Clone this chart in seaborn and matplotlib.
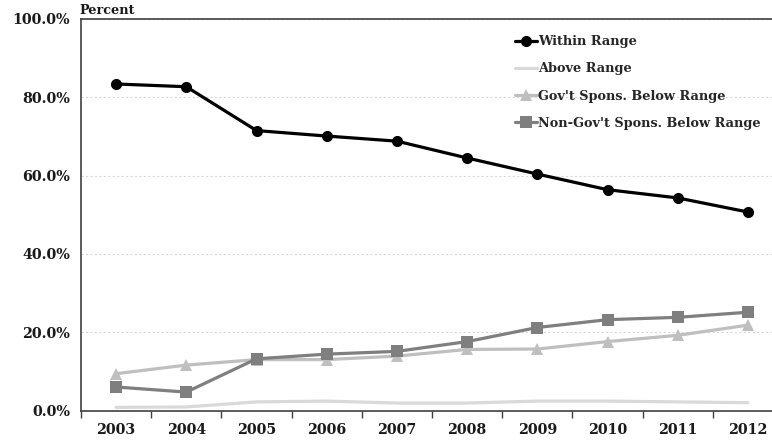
import matplotlib
matplotlib.use("Agg")
import matplotlib.pyplot as plt
import matplotlib.ticker as mticker
import pandas as pd
import seaborn as sns

years = [2003, 2004, 2005, 2006, 2007, 2008, 2009, 2010, 2011, 2012]
within_range = [83.4, 82.7, 71.5, 70.1, 68.8, 64.5, 60.4, 56.4, 54.3, 50.7]
above_range = [0.8, 0.9, 2.2, 2.4, 1.9, 1.9, 2.4, 2.4, 2.2, 2.0]
gov_below = [9.4, 11.6, 13.0, 13.0, 13.9, 15.6, 15.7, 17.6, 19.2, 21.8]
nongov_below = [6.0, 4.7, 13.2, 14.4, 15.1, 17.6, 21.2, 23.2, 23.8, 25.1]

series_names = ["Within Range", "Above Range",
                "Gov't Spons. Below Range", "Non-Gov't Spons. Below Range"]

sns.set_theme(style="white")
plt.rcParams["font.family"] = ["DejaVu Serif"]
plt.rcParams["font.weight"] = "bold"

fig = plt.figure(figsize=(7.72, 4.41), dpi=100)
ax = fig.add_axes([81 / 772, 30.5 / 441, 702 / 772, 391.5 / 441])

styles = [
    (within_range, dict(color="#000000", marker="o", markersize=8, linewidth=2.3)),
    (above_range, dict(color="#d9d9d9", marker=None, linewidth=2.3)),
    (gov_below, dict(color="#bfbfbf", marker="^", markersize=9, linewidth=2.3)),
    (nongov_below, dict(color="#7f7f7f", marker="s", markersize=8, linewidth=2.3)),
]

for name, (vals, kw) in zip(series_names, styles):
    df = pd.DataFrame({"year": years, "value": vals})
    sns.lineplot(data=df, x="year", y="value", ax=ax, label=name,
                 markeredgewidth=0, zorder=3, **kw)

ax.set_xlim(years[0] - 0.5, years[-1] + 0.5)
ax.set_ylim(0, 100)
ax.yaxis.set_major_locator(mticker.MultipleLocator(20))
ax.yaxis.set_major_formatter(mticker.FuncFormatter(lambda v, p: f"{v:.1f}%"))
ax.set_yticks([0], minor=True)
ax.set_xticks(years)
ax.set_xticklabels([str(y) for y in years])
ax.set_xticks([y + 0.5 for y in years[:-1]] + [years[0] - 0.5], minor=True)
ax.tick_params(axis="x", which="major", length=0, pad=9, labelsize=10.3)
ax.tick_params(axis="x", which="minor", length=5, width=1, color="#404040",
               direction="out", bottom=True)
ax.tick_params(axis="y", which="major", length=0, pad=8, labelsize=10.3)
ax.tick_params(axis="y", which="minor", length=4, width=1, color="#404040",
               direction="out", left=True)
for lbl in ax.get_xticklabels() + ax.get_yticklabels():
    lbl.set_fontweight("bold")
    lbl.set_color("#1a1a1a")

ax.grid(axis="y", color="#d9d9d9", linestyle=(0, (2, 2)), linewidth=0.8)
ax.set_axisbelow(True)
ax.set_xlabel("")
ax.set_ylabel("")
ax.spines["right"].set_visible(False)
for side in ("left", "bottom", "top"):
    ax.spines[side].set_color("#404040")
    ax.spines[side].set_linewidth(1.2)

fig.text(79 / 772, 1 - 10 / 441, "Percent", fontsize=9.3, fontweight="bold",
         color="#1a1a1a", va="center", ha="left")

ax.legend_.remove()
handles, labels = ax.get_legend_handles_labels()
fig.legend(handles, labels, loc="upper left",
           bbox_to_anchor=(510 / 772, 1 - 30 / 441), frameon=False,
           handlelength=1.7, handletextpad=0.1, labelspacing=1.1,
           prop={"weight": "bold", "size": 9.3}, borderaxespad=0)

fig.savefig("out.png", dpi=100)
